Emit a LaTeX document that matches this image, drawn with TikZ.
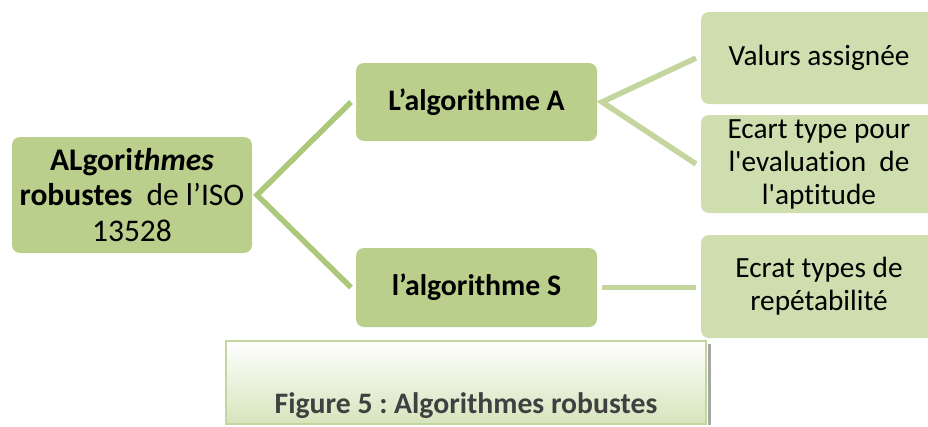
\documentclass[tikz,border=0pt]{standalone}
\usepackage{fontspec}
\setmainfont{Carlito}[Ligatures=CommonOff]
\newfontfamily\leaffont{Carlito}[Ligatures={TeXOff,CommonOff}]
\definecolor{boxgreen}{RGB}{187,207,140}
\definecolor{leafgreen}{RGB}{207,222,174}
\definecolor{linkdark}{RGB}{172,200,122}
\definecolor{linklight}{RGB}{196,214,158}
\definecolor{capline}{RGB}{195,214,155}
\definecolor{capfill}{RGB}{214,228,188}
\definecolor{captext}{RGB}{64,64,64}
\tikzset{
	box/.style={rectangle, rounded corners=8pt, fill=boxgreen, align=center, inner sep=0pt, outer xsep=5pt, font=\fontsize{29.8}{35}\selectfont\bfseries},
	rootbox/.style={box, font=\fontsize{31.5}{35.5}\selectfont},
	leaf/.style={box, fill=leafgreen, minimum width=236, font=\fontsize{29.3}{33}\selectfont\leaffont},
	linkroot/.style={draw=linkdark, line width=5.5pt, miter limit=3},
	linkleaf/.style={draw=linklight, line width=5.5pt, miter limit=3},
}
\frenchspacing

\begin{document}
\begin{tikzpicture}[x=1pt, y=-1pt]
			%%%%% START %%%%%
			
			\clip (0,0) rectangle (928,426);
			
			\node[rootbox, minimum width=240, minimum height=116] (root) at (132,195) {\textbf{ALgori\textit{thmes}}\\\textbf{robustes}\hspace{0.45em}de l’ISO\\13528};
			
			\node[box, minimum width=241, minimum height=78] (algoA) at (476.5,102) {L’algorithme A};
			\node[box, minimum width=241, minimum height=79] (algoS) at (476.5,287.5) {l’algorithme S};
			
			\node[leaf, minimum height=92] (valeurs) at (819,58) {Valurs assignée};
			\node[leaf, minimum height=98] (ecart) at (819,164) {Ecart type pour\\l'evaluation\ \ de\\l'aptitude};
			\node[leaf, minimum height=103] (repet) at (819,286.5) {Ecrat types de\\repétabilité};
			
			\draw[linkroot] (algoA.west) -- (root.east) -- (algoS.west);
			\draw[linkleaf] (valeurs.west) -- (algoA.east) -- (ecart.west);
			\draw[linkleaf] (algoS.east) -- (algoS.east -| repet.west);
			
			\node[draw=capline, line width=2pt, top color=white, bottom color=capfill, minimum width=480, minimum height=83, text height=68pt, text depth=7pt, text=captext, font=\fontsize{29.7}{35}\selectfont\bfseries] (caption) at (466,382.5) {Figure 5 : Algorithmes robustes};
			\draw[gray!70, line width=2.5pt] ([shift={(2.5,4)}]caption.north east) -- ([shift={(2.5,0)}]caption.south east);
			
			%%%%% END %%%%%
		\end{tikzpicture}
\end{document}
